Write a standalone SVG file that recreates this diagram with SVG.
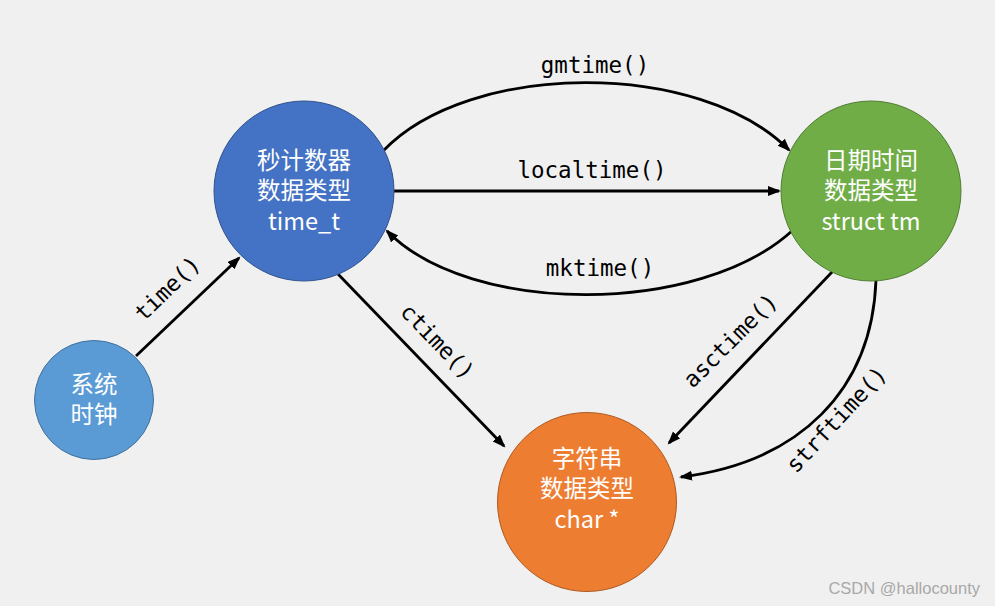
<svg xmlns="http://www.w3.org/2000/svg" width="995" height="606" viewBox="0 0 995 606">
<style>
.node text{font-family:"Noto Sans CJK SC","Noto Sans",sans-serif;font-size:23.5px;fill:#ffffff;text-anchor:middle}
.edge{fill:none;stroke:#000;stroke-width:2.8;marker-end:url(#ah)}
.lbl{font-family:"DejaVu Sans Mono","Liberation Mono",monospace;font-size:22.5px;fill:#000;text-anchor:middle}
</style>
<defs>
<marker id="ah" markerUnits="userSpaceOnUse" markerWidth="14" markerHeight="12" refX="11" refY="5" orient="auto">
<path d="M0,0 L13,5 L0,10 z" fill="#000"/>
</marker>
</defs>
<rect width="995" height="606" fill="#f0f0f0"/>
<g id="connectors">
<path class="edge" d="M136,356 L239,258"/>
<path class="edge" d="M383,151 C470,60 700,60 789,150"/>
<path class="edge" d="M394,191 L779,191"/>
<path class="edge" d="M793,230 C700,316 470,316 387,231"/>
<path class="edge" d="M337,273 L504,446"/>
<path class="edge" d="M833,271 L669,443"/>
<path class="edge" d="M876,280 C872,390 800,462 681,477"/>
<text class="lbl" transform="translate(168,289) rotate(-44)" y="7">time()</text>
<text class="lbl" x="595" y="73">gmtime()</text>
<text class="lbl" x="592" y="178">localtime()</text>
<text class="lbl" x="600" y="276">mktime()</text>
<text class="lbl" transform="translate(437,342) rotate(46)" y="7">ctime()</text>
<text class="lbl" transform="translate(731,341) rotate(-45)" y="7">asctime()</text>
<text class="lbl" transform="translate(837,420) rotate(-47)" y="7">strftime()</text>
</g>
<g id="node-clock" class="node">
<circle cx="94" cy="400" r="59.5" fill="#5b9bd5" stroke="#41719c" stroke-width="1"/>
<text x="94" y="393">系统</text>
<text x="94" y="423">时钟</text>
</g>
<g id="node-time_t" class="node">
<circle cx="304" cy="191" r="90" fill="#4472c4" stroke="#2f528f" stroke-width="1"/>
<text x="304" y="169">秒计数器</text>
<text x="304" y="199">数据类型</text>
<text x="304" y="230">time_t</text>
</g>
<g id="node-tm" class="node">
<circle cx="871" cy="191" r="90" fill="#70ad47" stroke="#507e32" stroke-width="1"/>
<text x="871" y="169">日期时间</text>
<text x="871" y="199">数据类型</text>
<text x="871" y="230">struct tm</text>
</g>
<g id="node-char" class="node">
<circle cx="587" cy="502" r="89.5" fill="#ed7d31" stroke="#ae5a21" stroke-width="1"/>
<text x="587" y="467">字符串</text>
<text x="587" y="497">数据类型</text>
<text x="587" y="528">char *</text>
</g>
<text x="980" y="594" text-anchor="end" font-family="Liberation Sans, sans-serif" font-size="16.5" fill="#a8a8a8">CSDN @hallocounty</text>
</svg>
